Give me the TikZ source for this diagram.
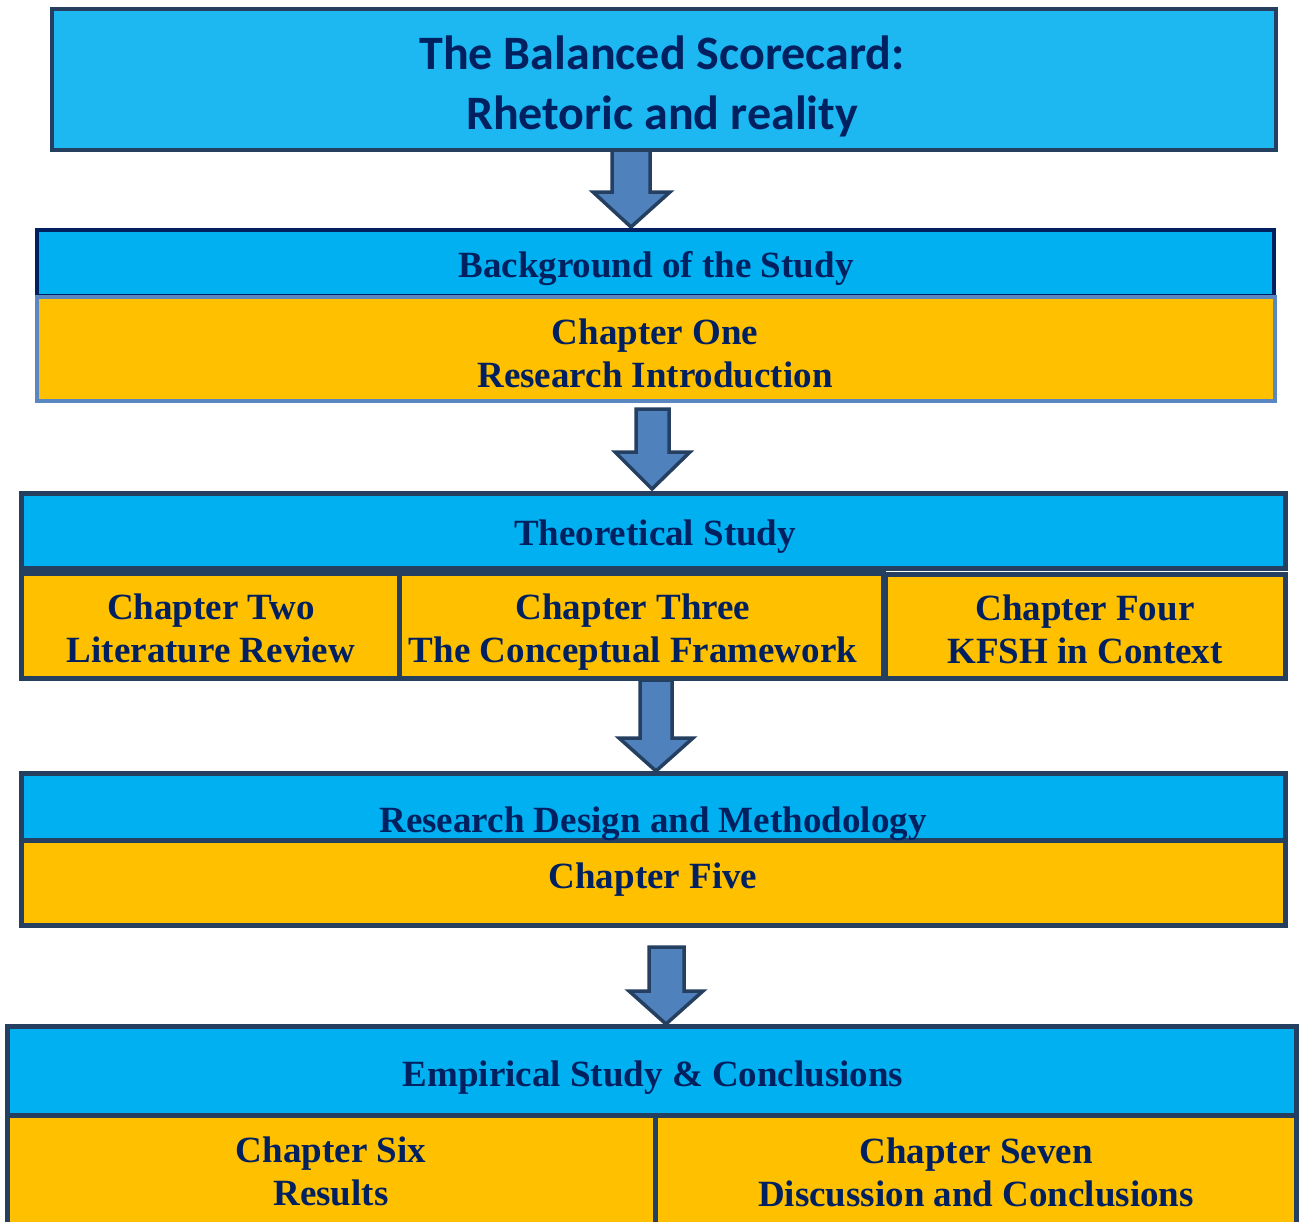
\documentclass[tikz,border=0pt]{standalone}
\usepackage{fontspec}
\setmainfont{Liberation Serif}
\newfontfamily\titlefont{Carlito}
\definecolor{titlefill}{HTML}{1DB8F2}
\definecolor{bandblue}{HTML}{00B0F0}
\definecolor{chorange}{HTML}{FFC000}
\definecolor{frame}{HTML}{243F60}
\definecolor{navy}{HTML}{002060}
\definecolor{steel}{HTML}{5B87C0}
\definecolor{arrowfill}{HTML}{4F81BD}
\definecolor{txtcol}{HTML}{002060}
\begin{document}
\begin{tikzpicture}[x=1pt,y=-1pt,
  boxbase/.style={rectangle, anchor=north west, inner sep=0pt, outer sep=0pt, line width=5pt},
  bandbox/.style={boxbase, draw=frame, fill=bandblue},
  chapbox/.style={boxbase, draw=frame, fill=chorange},
  blockarrow/.style={draw=frame, fill=arrowfill, line width=3.5pt, line join=miter},
  lbl/.style={text=txtcol, font=\bfseries\fontsize{37}{43}\selectfont, align=center, inner sep=0pt},
  ttl/.style={text=txtcol, font=\titlefont\bfseries\fontsize{48}{60}\selectfont, align=center, inner sep=0pt}
]
\useasboundingbox (0,0) rectangle (1300,1221);
\clip (0,0) rectangle (1300,1221);

% block arrows (drawn first, boxes cover their ends)
\draw[blockarrow] (612,150) -- (612,192) -- (593,192) -- (631,227) -- (670,192) -- (650,192) -- (650,150) -- cycle;
\draw[blockarrow] (636,409) -- (636,452) -- (615,452) -- (652,489) -- (690,452) -- (669,452) -- (669,409) -- cycle;
\draw[blockarrow] (640,680) -- (640,738) -- (619,738) -- (656,771) -- (693,738) -- (672,738) -- (672,680) -- cycle;
\draw[blockarrow] (649,947) -- (649,991) -- (629,991) -- (666,1024) -- (703,991) -- (684,991) -- (684,947) -- cycle;

% title
\node[boxbase, draw=frame, fill=titlefill, line width=4pt, minimum width=1224pt, minimum height=141pt] (title) at (52,9) {};
\node[ttl] (ttltext) at (662,86) {The Balanced Scorecard:\\Rhetoric and reality};

% background of the study
\node[boxbase, draw=navy, fill=bandblue, line width=4.5pt, minimum width=1237pt, minimum height=66pt] (bgband) at (37,230) {};
\node[boxbase, draw=steel, fill=chorange, line width=4.5pt, minimum width=1238pt, minimum height=104pt] (ch1box) at (37,297) {};
\node[lbl] (bgtext) at (656,269) {Background of the Study};
\node[lbl] (ch1text) at (655,353) {Chapter One\\Research Introduction};

% theoretical study
\node[bandbox, minimum width=1264pt, minimum height=75pt] (thband) at (21,493) {};
\node[chapbox, minimum width=378pt, minimum height=105pt] (ch2box) at (21,573) {};
\node[chapbox, minimum width=484pt, minimum height=105pt] (ch3box) at (399,573) {};
\node[chapbox, minimum width=400pt, minimum height=104pt] (ch4box) at (885,574) {};
\node[lbl] (thtext) at (655,537) {Theoretical Study};
\node[lbl] (ch2text) at (211,628) {Chapter Two\\Literature Review};
\node[lbl] (ch3text) at (633,632) {Chapter Three\\The Conceptual Framework};
\node[lbl] (ch4text) at (1085,629) {Chapter Four\\KFSH in Context};

% research design
\node[bandbox, minimum width=1264pt, minimum height=68pt] (rdband) at (21,773) {};
\node[chapbox, minimum width=1264pt, minimum height=85pt] (ch5box) at (21,840) {};
\node[lbl] (rdtext) at (653,824) {Research Design and Methodology};
\node[lbl] (ch5text) at (653,880) {Chapter Five};

% empirical study
\node[bandbox, minimum width=1289pt, minimum height=89pt] (emband) at (7,1026) {};
\node[chapbox, minimum width=648pt, minimum height=130pt] (ch6box) at (7,1115) {};
\node[chapbox, minimum width=641pt, minimum height=130pt] (ch7box) at (655,1115) {};
\node[lbl] (emtext) at (653,1078) {Empirical Study \& Conclusions};
\node[lbl] (ch6text) at (331,1171) {Chapter Six\\Results};
\node[lbl] (ch7text) at (976,1172) {Chapter Seven\\Discussion and Conclusions};
\end{tikzpicture}
\end{document}
